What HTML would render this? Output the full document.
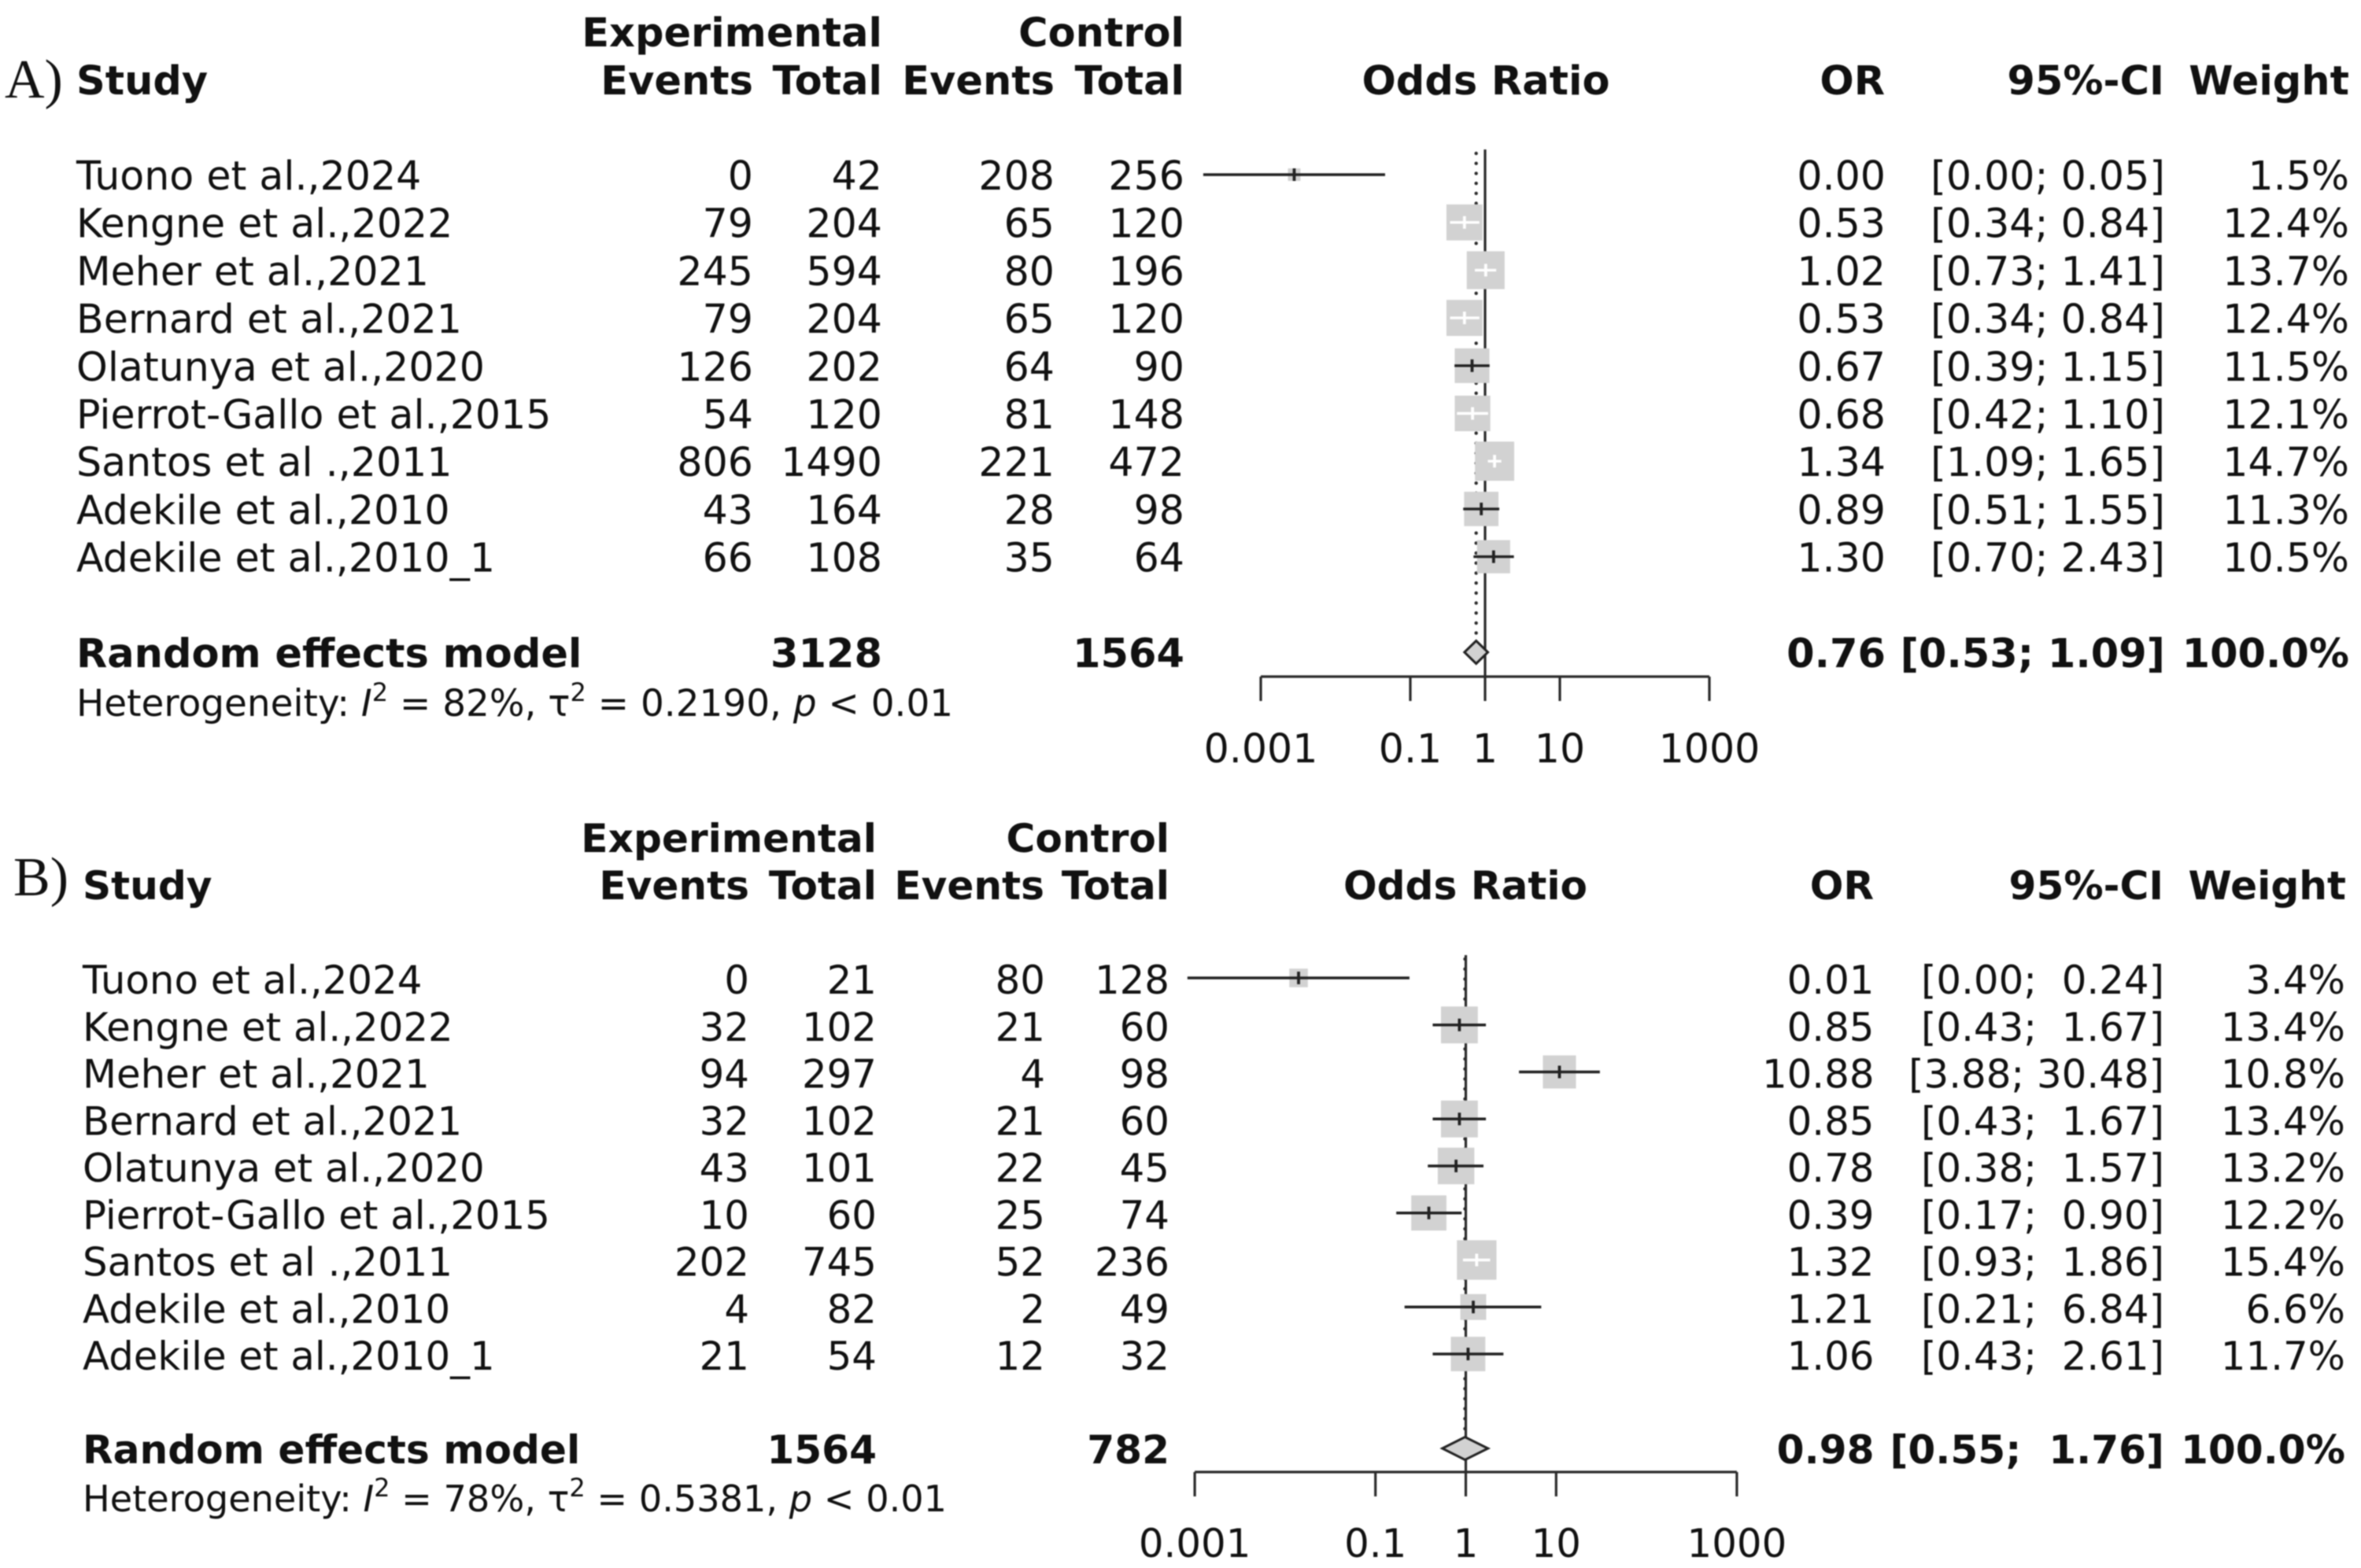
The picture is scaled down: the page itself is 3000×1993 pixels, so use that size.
<!DOCTYPE html>
<html lang="en">
<head>
<meta charset="utf-8">
<title>Forest plots of odds ratios</title>
<style>
html,body{margin:0;padding:0;background:#fff;width:3000px;height:1993px;overflow:hidden}
svg{display:block;filter:blur(.7px)}
text{font-family:"DejaVu Sans","Liberation Sans",sans-serif;fill:#111;white-space:pre}
#panelA .b{font-size:51px}
#panelB .b{font-size:50.2px}
.b{font-weight:bold}
.r{text-anchor:end}
.m{text-anchor:middle}
.tag{font-family:"Liberation Serif",serif;font-size:70px}
</style>
</head>
<body>
<svg id="chart" xmlns="http://www.w3.org/2000/svg" width="3000" height="1993" viewBox="0 0 3000 1993">
  <rect width="3000" height="1993" fill="#fff"/>

  <g id="panelA" font-size="50.6">
    <text class="tag" x="6" y="124">A)</text>
    <text class="b r" x="1121" y="59">Experimental</text>
    <text class="b r" x="1505" y="59">Control</text>
    <text class="b" x="97" y="120">Study</text>
    <text class="b r" x="957" y="120">Events</text>
    <text class="b r" x="1121" y="120">Total</text>
    <text class="b r" x="1340" y="120">Events</text>
    <text class="b r" x="1505" y="120">Total</text>
    <text class="b m" x="1888" y="120">Odds Ratio</text>
    <text class="b r" x="2395" y="120">OR</text>
    <text class="b r" x="2750" y="120">95%-CI</text>
    <text class="b r" x="2985" y="120">Weight</text>
    <text class="b" x="97" y="848">Random effects model</text>
    <text class="b r" x="1121" y="848">3128</text>
    <text class="b r" x="1505" y="848">1564</text>
    <text x="97" y="910" font-size="46.9">Heterogeneity: <tspan font-style="italic">I</tspan><tspan dy="-19" font-size="32">2</tspan><tspan dy="19"> = 82%, τ</tspan><tspan dy="-19" font-size="32">2</tspan><tspan dy="19"> = 0.2190, </tspan><tspan font-style="italic">p</tspan> &lt; 0.01</text>
  </g>

  <g id="panelB" font-size="49.8">
    <text class="tag" x="17" y="1138">B)</text>
    <text class="b r" x="1114" y="1083">Experimental</text>
    <text class="b r" x="1486" y="1083">Control</text>
    <text class="b" x="105" y="1143">Study</text>
    <text class="b r" x="952" y="1143">Events</text>
    <text class="b r" x="1114" y="1143">Total</text>
    <text class="b r" x="1327" y="1143">Events</text>
    <text class="b r" x="1486" y="1143">Total</text>
    <text class="b m" x="1862" y="1143">Odds Ratio</text>
    <text class="b r" x="2381" y="1143">OR</text>
    <text class="b r" x="2749" y="1143">95%-CI</text>
    <text class="b r" x="2981" y="1143">Weight</text>
    <text class="b" x="105" y="1860">Random effects model</text>
    <text class="b r" x="1114" y="1860">1564</text>
    <text class="b r" x="1486" y="1860">782</text>
    <text x="105" y="1921" font-size="46.2">Heterogeneity: <tspan font-style="italic">I</tspan><tspan dy="-19" font-size="32">2</tspan><tspan dy="19"> = 78%, τ</tspan><tspan dy="-19" font-size="32">2</tspan><tspan dy="19"> = 0.5381, </tspan><tspan font-style="italic">p</tspan> &lt; 0.01</text>
  </g>
</svg>

<script>
// Shared categories and axis ticks
var studies = ["Tuono et al.,2024","Kengne et al.,2022","Meher et al.,2021","Bernard et al.,2021","Olatunya et al.,2020","Pierrot-Gallo et al.,2015","Santos et al .,2011","Adekile et al.,2010","Adekile et al.,2010_1"];
var tickValues = [0.001, 0.1, 1, 10, 1000];
var tickLabels = ["0.001", "0.1", "1", "10", "1000"];

// Panel A values
var expEventsA = [0, 79, 245, 79, 126, 54, 806, 43, 66];
var expTotalsA = [42, 204, 594, 204, 202, 120, 1490, 164, 108];
var ctrlEventsA = [208, 65, 80, 65, 64, 81, 221, 28, 35];
var ctrlTotalsA = [256, 120, 196, 120, 90, 148, 472, 98, 64];
var orA = [0.0028, 0.53, 1.02, 0.53, 0.67, 0.68, 1.34, 0.89, 1.30];
var lowerA = [0.00017, 0.34, 0.73, 0.34, 0.39, 0.42, 1.09, 0.51, 0.70];
var upperA = [0.046, 0.84, 1.41, 0.84, 1.15, 1.10, 1.65, 1.55, 2.43];
var weightA = [1.5, 12.4, 13.7, 12.4, 11.5, 12.1, 14.7, 11.3, 10.5];
var pooledA = [0.76, 0.53, 1.09];

// Panel B values
var expEventsB = [0, 32, 94, 32, 43, 10, 202, 4, 21];
var expTotalsB = [21, 102, 297, 102, 101, 60, 745, 82, 54];
var ctrlEventsB = [80, 21, 4, 21, 22, 25, 52, 2, 12];
var ctrlTotalsB = [128, 60, 98, 60, 45, 74, 236, 49, 32];
var orB = [0.0141, 0.85, 10.88, 0.85, 0.78, 0.39, 1.32, 1.21, 1.06];
var lowerB = [0.00083, 0.43, 3.88, 0.43, 0.38, 0.17, 0.93, 0.21, 0.43];
var upperB = [0.238, 1.67, 30.48, 1.67, 1.57, 0.90, 1.86, 6.84, 2.61];
var weightB = [3.4, 13.4, 10.8, 13.4, 13.2, 12.2, 15.4, 6.6, 11.7];
var pooledB = [0.98, 0.55, 1.76];

var SVGNS = "http://www.w3.org/2000/svg";

function make(parent, tag, attrs, content) {
  var el = document.createElementNS(SVGNS, tag);
  for (var k in attrs) el.setAttribute(k, attrs[k]);
  if (content !== undefined) el.textContent = content;
  parent.appendChild(el);
  return el;
}

function fmtCI(lo, up, width) {
  var u = up.toFixed(2);
  return "[" + lo.toFixed(2) + "; " + (u.length < width ? " " : "") + u + "]";
}

function drawPanel(cfg) {
  var root = document.getElementById(cfg.id);
  var n = studies.length;
  function xs(v) { return cfg.x1 + cfg.decade * Math.log10(v); }
  function baseY(i) { return cfg.firstBase + cfg.rowH * i; }
  function midY(i) { return cfg.firstMid + cfg.rowH * i; }

  var maxUpWidth = 0;
  cfg.upper.concat([cfg.pooled[2]]).forEach(function (u) {
    maxUpWidth = Math.max(maxUpWidth, u.toFixed(2).length);
  });

  var marks = make(root, "g", {});
  
  

  var refLine = make(marks, "line", {x1: xs(1), x2: xs(1), y1: cfg.lineTop, y2: cfg.axisY, stroke: "#2a2a2a", "stroke-width": 3.2});
  
  

  var pooledLine = make(marks, "line", {x1: xs(cfg.pooled[0]), x2: xs(cfg.pooled[0]), y1: cfg.lineTop + 5, y2: cfg.modelMid, stroke: "#2a2a2a", "stroke-width": 4.4, "stroke-linecap": "round", "stroke-dasharray": "0 12.7"});
  
  

  for (var i = 0; i < n; i++) {
    var y = midY(i), cx = xs(cfg.or[i]), size = cfg.k * Math.sqrt(cfg.weight[i]);
    var lo = xs(cfg.lower[i]), up = xs(cfg.upper[i]);
    var inside = lo >= cx - size / 2 && up <= cx + size / 2;
    var col = inside ? "#fff" : "#222";

    var square = make(marks, "rect", {x: cx - size / 2, y: y - size / 2, width: size, height: size, fill: "#d2d2d2"});
    
    

    var whisker = make(marks, "line", {x1: lo, x2: up, y1: y, y2: y, stroke: col, "stroke-width": 3.4});
    
    

    var point = make(marks, "line", {x1: cx, x2: cx, y1: y - 8, y2: y + 8, stroke: col, "stroke-width": 3.8});
    
    

    var rowY = baseY(i);
    var label = make(root, "text", {x: cfg.studyX, y: rowY}, studies[i]);
    
    

    var a = make(root, "text", {"class": "r", x: cfg.colEvE, y: rowY}, String(cfg.expEvents[i]));
    
    

    var b = make(root, "text", {"class": "r", x: cfg.colTotE, y: rowY}, String(cfg.expTotals[i]));
    
    

    var c = make(root, "text", {"class": "r", x: cfg.colEvC, y: rowY}, String(cfg.ctrlEvents[i]));
    
    

    var d = make(root, "text", {"class": "r", x: cfg.colTotC, y: rowY}, String(cfg.ctrlTotals[i]));
    
    

    var e = make(root, "text", {"class": "r", x: cfg.colOR, y: rowY}, cfg.or[i].toFixed(2));
    
    

    var f = make(root, "text", {"class": "r", x: cfg.colCI, y: rowY}, fmtCI(cfg.lower[i], cfg.upper[i], maxUpWidth));
    
    

    var g = make(root, "text", {"class": "r", x: cfg.colW, y: rowY}, cfg.weight[i].toFixed(1) + "%");
    
    
  }

  var pts = [
    [xs(cfg.pooled[1]), cfg.modelMid],
    [xs(cfg.pooled[0]), cfg.modelMid - 14.5],
    [xs(cfg.pooled[2]), cfg.modelMid],
    [xs(cfg.pooled[0]), cfg.modelMid + 14.5]
  ].map(function (p) { return p.join(","); }).join(" ");
  var diamond = make(marks, "polygon", {points: pts, fill: "#d2d2d2", stroke: "#222", "stroke-width": 3});
  
  

  var axis = make(marks, "line", {x1: xs(tickValues[0]), x2: xs(tickValues[tickValues.length - 1]), y1: cfg.axisY, y2: cfg.axisY, stroke: "#2a2a2a", "stroke-width": 3.2});
  
  

  tickValues.forEach(function (v, t) {
    var tick = make(marks, "line", {x1: xs(v), x2: xs(v), y1: cfg.axisY, y2: cfg.axisY + 31, stroke: "#2a2a2a", "stroke-width": 3.2});
    
    

    var tl = make(root, "text", {"class": "m", x: xs(v), y: cfg.tickBase}, tickLabels[t]);
    
    
  });

  var mOR = make(root, "text", {"class": "b r", x: cfg.colOR, y: cfg.modelBase}, cfg.pooled[0].toFixed(2));
  
  

  var mCI = make(root, "text", {"class": "b r", x: cfg.colCI, y: cfg.modelBase}, fmtCI(cfg.pooled[1], cfg.pooled[2], maxUpWidth));
  
  

  var mW = make(root, "text", {"class": "b r", x: cfg.colW, y: cfg.modelBase}, "100.0%");
  
  
}

drawPanel({
  id: "panelA", expEvents: expEventsA, expTotals: expTotalsA, ctrlEvents: ctrlEventsA, ctrlTotals: ctrlTotalsA,
  or: orA, lower: lowerA, upper: upperA, weight: weightA, pooled: pooledA,
  x1: 1887, decade: 95, k: 13, lineTop: 190, axisY: 860, tickBase: 969,
  firstBase: 241, firstMid: 222, rowH: 60.7, modelMid: 829, modelBase: 848,
  studyX: 97, colEvE: 957, colTotE: 1121, colEvC: 1340, colTotC: 1505, colOR: 2396, colCI: 2751, colW: 2985
});

drawPanel({
  id: "panelB", expEvents: expEventsB, expTotals: expTotalsB, ctrlEvents: ctrlEventsB, ctrlTotals: ctrlTotalsB,
  or: orB, lower: lowerB, upper: upperB, weight: weightB, pooled: pooledB,
  x1: 1862.5, decade: 114.8, k: 12.8, lineTop: 1214, axisY: 1871, tickBase: 1979,
  firstBase: 1263, firstMid: 1243, rowH: 59.75, modelMid: 1841, modelBase: 1860,
  studyX: 105, colEvE: 952, colTotE: 1114, colEvC: 1328, colTotC: 1486, colOR: 2381.5, colCI: 2750, colW: 2980
});
</script>
</body>
</html>
